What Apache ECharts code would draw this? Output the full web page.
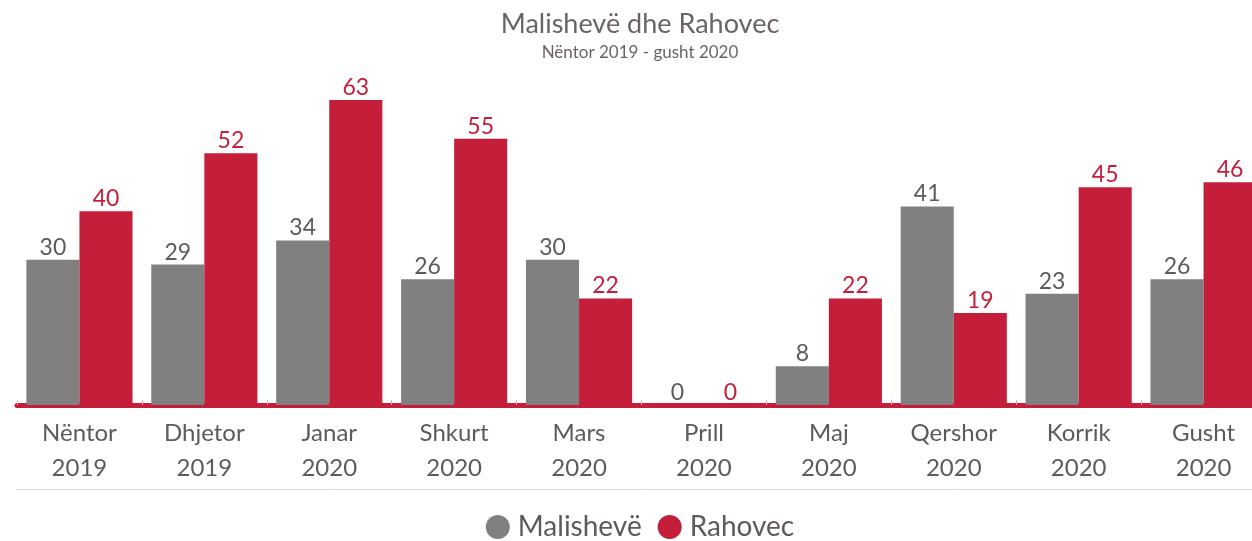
<!DOCTYPE html>
<html>
<head>
<meta charset="utf-8">
<script src="https://cdn.jsdelivr.net/npm/echarts@6/dist/echarts.min.js"></script>
<style>
  html, body { margin: 0; padding: 0; background: #fff; overflow: hidden; }
  #chart { width: 1280px; height: 541px; }
</style>
</head>
<body>
<div id="chart"></div>
<script>
// Monthly counts, November 2019 – August 2020
const months = ['Nëntor\n2019', 'Dhjetor\n2019', 'Janar\n2020', 'Shkurt\n2020', 'Mars\n2020',
                'Prill\n2020', 'Maj\n2020', 'Qershor\n2020', 'Korrik\n2020', 'Gusht\n2020'];
const malisheve = [30, 29, 34, 26, 30, 0, 8, 41, 23, 26];
const rahovec   = [40, 52, 63, 55, 22, 0, 22, 19, 45, 46];

const FONT = 'Lato, "Open Sans", sans-serif';
const GREY = '#808080';
const RED = '#c41e3a';
const TEXT = '#5f5a59';

const chart = echarts.init(document.getElementById('chart'));
chart.setOption({
  animation: false,
  title: {
    text: 'Malishevë dhe Rahovec',
    subtext: 'Nëntor 2019 - gusht 2020',
    left: 'center',
    top: 6,
    itemGap: 6,
    textStyle: { fontFamily: FONT, fontSize: 27, fontWeight: 'normal', color: '#6b6463' },
    subtextStyle: { fontFamily: FONT, fontSize: 17, color: '#6b6463' }
  },
  legend: {
    top: 508,
    left: 'center',
    icon: 'circle',
    itemWidth: 24,
    itemHeight: 24,
    itemGap: 16,
    textStyle: { fontFamily: FONT, fontSize: 28, color: TEXT, padding: [0, 0, 0, 3] }
  },
  grid: { left: 17, right: 14, top: 100, bottom: 136, containLabel: false },
  xAxis: {
    type: 'category',
    data: months,
    axisLine: { lineStyle: { color: RED, width: 5 } },
    axisTick: { show: true, inside: true, length: 5, lineStyle: { color: '#e8a6b2', width: 1 } },
    axisLabel: { fontFamily: FONT, fontSize: 24, color: TEXT, lineHeight: 35, margin: 11 }
  },
  yAxis: {
    type: 'value',
    min: 0,
    max: 63,
    show: false,
    splitLine: { show: false }
  },
  graphic: [{
    type: 'line',
    shape: { x1: 17, y1: 489.5, x2: 1266, y2: 489.5 },
    style: { stroke: '#d9d9d9', lineWidth: 1 },
    silent: true
  }],
  series: [
    {
      name: 'Malishevë',
      type: 'bar',
      data: malisheve,
      barGap: '0%',
      barCategoryGap: '15%',
      itemStyle: { color: GREY },
      label: { show: true, position: 'top', distance: 1, fontFamily: FONT, fontSize: 23, color: TEXT }
    },
    {
      name: 'Rahovec',
      type: 'bar',
      data: rahovec,
      barGap: '0%',
      barCategoryGap: '15%',
      itemStyle: { color: RED },
      label: { show: true, position: 'top', distance: 1, fontFamily: FONT, fontSize: 23, color: RED }
    }
  ]
});
</script>
</body>
</html>
